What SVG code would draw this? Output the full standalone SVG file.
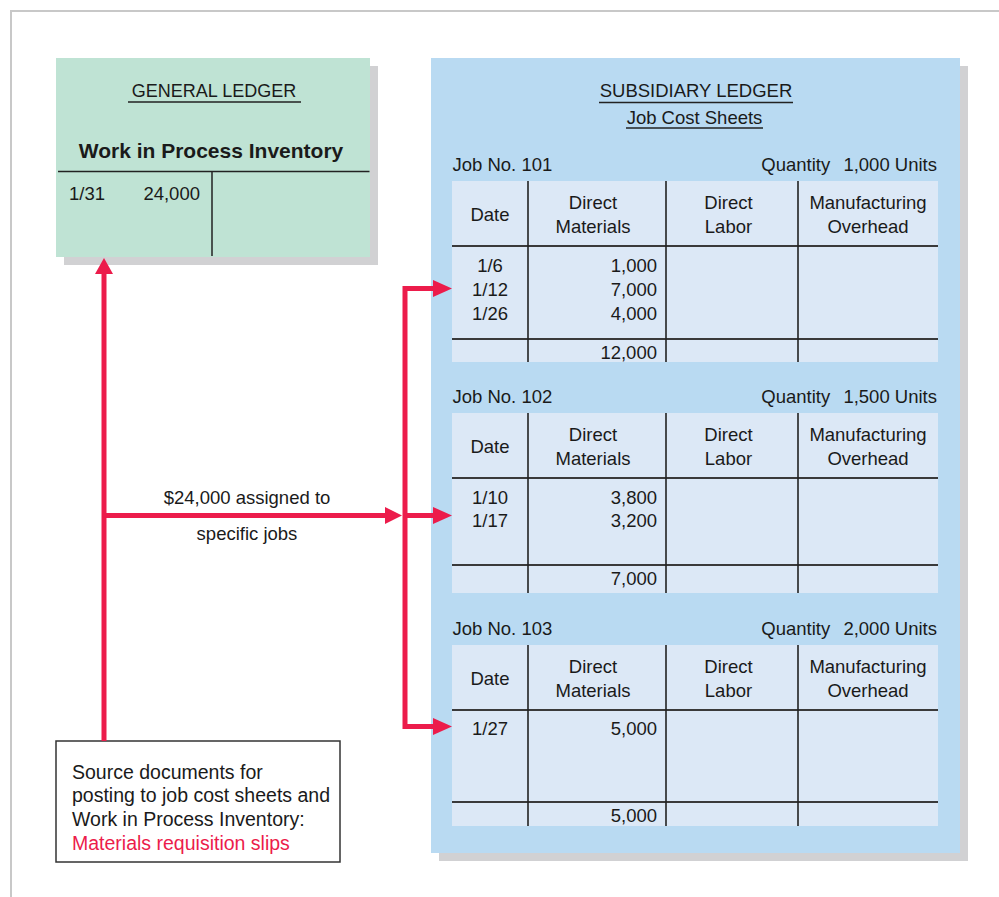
<svg xmlns="http://www.w3.org/2000/svg" width="999" height="897" viewBox="0 0 999 897">
<defs>
<style>
text { font-family: "Liberation Sans", Arial, sans-serif; font-size: 18.5px; fill: #1a1a1a; }
.c { text-anchor: middle; }
.r { text-anchor: end; }
.b { font-weight: bold; font-size: 21px; }
.red { fill: #ec1c4b; }
.shadow { fill: #d1d1d3; }
.tbl { fill: #dce8f6; }
.hl { stroke: #3a3a3a; stroke-width: 2; fill: none; }
.vl { stroke: #222; stroke-width: 1.6; fill: none; }
.ul { stroke: #222; stroke-width: 1.3; }
.conn { stroke: #ec1c4b; stroke-width: 5; fill: none; stroke-linejoin: miter; }
.head { fill: #ec1c4b; }
.src { font-size: 19.5px; }
</style>
</defs>
<rect x="0" y="0" width="999" height="897" fill="#ffffff"/>
<g id="frame">
<path d="M11 897 V11 H999" stroke="#c8c8c8" stroke-width="2" fill="none"/>
</g>

<g id="general-ledger">
<rect class="shadow" x="64" y="66" width="314" height="199"/>
<rect x="56" y="58" width="314" height="199" fill="#bfe3d4"/>
<text class="c" x="214" y="97" style="font-size:18px">GENERAL LEDGER</text>
<line class="ul" x1="128" y1="102" x2="301" y2="102"/>
<text class="c b" x="211" y="158">Work in Process Inventory</text>
<line x1="58" y1="171.5" x2="369.5" y2="171.5" stroke="#222" stroke-width="1.5"/>
<line x1="212" y1="171.5" x2="212" y2="256" stroke="#222" stroke-width="1.5"/>
<text x="69" y="200">1/31</text>
<text class="r" x="200" y="200">24,000</text>
</g>

<g id="subsidiary-ledger">
<rect class="shadow" x="439" y="66" width="529" height="795"/>
<rect x="431" y="58" width="529" height="795" fill="#b9daf2"/>
<text class="c" x="696" y="97">SUBSIDIARY LEDGER</text>
<line class="ul" x1="599" y1="102.5" x2="793" y2="102.5"/>
<text class="c" x="694.5" y="123.5">Job Cost Sheets</text>
<line class="ul" x1="626" y1="128" x2="763" y2="128"/>

<g id="job-101">
<text x="452.5" y="171">Job No. 101</text>
<text class="r" x="937" y="171">Quantity<tspan dx="8"> 1,000 Units</tspan></text>
<rect class="tbl" x="452" y="181" width="486" height="181"/>
<path class="hl" d="M452 246 H938 M452 339 H938"/>
<path class="vl" d="M528 181 V362 M666 181 V362 M798 181 V362"/>
<text class="c" x="490" y="221">Date</text>
<text class="c" x="593" y="209">Direct</text>
<text class="c" x="593" y="233">Materials</text>
<text class="c" x="728.5" y="209">Direct</text>
<text class="c" x="728.5" y="233">Labor</text>
<text class="c" x="868" y="209">Manufacturing</text>
<text class="c" x="868" y="233">Overhead</text>
<text class="c" x="490" y="272">1/6</text>
<text class="c" x="490" y="296">1/12</text>
<text class="c" x="490" y="320">1/26</text>
<text class="r" x="657" y="272">1,000</text>
<text class="r" x="657" y="296">7,000</text>
<text class="r" x="657" y="320">4,000</text>
<text class="r" x="657" y="358.5">12,000</text>
</g>

<g id="job-102">
<text x="452.5" y="403">Job No. 102</text>
<text class="r" x="937" y="403">Quantity<tspan dx="8"> 1,500 Units</tspan></text>
<rect class="tbl" x="452" y="413" width="486" height="180"/>
<path class="hl" d="M452 478 H938 M452 565 H938"/>
<path class="vl" d="M528 413 V593 M666 413 V593 M798 413 V593"/>
<text class="c" x="490" y="453">Date</text>
<text class="c" x="593" y="441">Direct</text>
<text class="c" x="593" y="465">Materials</text>
<text class="c" x="728.5" y="441">Direct</text>
<text class="c" x="728.5" y="465">Labor</text>
<text class="c" x="868" y="441">Manufacturing</text>
<text class="c" x="868" y="465">Overhead</text>
<text class="c" x="490" y="503.5">1/10</text>
<text class="c" x="490" y="527">1/17</text>
<text class="r" x="657" y="503.5">3,800</text>
<text class="r" x="657" y="527">3,200</text>
<text class="r" x="657" y="585">7,000</text>
</g>

<g id="job-103">
<text x="452.5" y="634.5">Job No. 103</text>
<text class="r" x="937" y="634.5">Quantity<tspan dx="8"> 2,000 Units</tspan></text>
<rect class="tbl" x="452" y="645" width="486" height="181"/>
<path class="hl" d="M452 710 H938 M452 802 H938"/>
<path class="vl" d="M528 645 V826 M666 645 V826 M798 645 V826"/>
<text class="c" x="490" y="685">Date</text>
<text class="c" x="593" y="673">Direct</text>
<text class="c" x="593" y="697">Materials</text>
<text class="c" x="728.5" y="673">Direct</text>
<text class="c" x="728.5" y="697">Labor</text>
<text class="c" x="868" y="673">Manufacturing</text>
<text class="c" x="868" y="697">Overhead</text>
<text class="c" x="490" y="735">1/27</text>
<text class="r" x="657" y="735">5,000</text>
<text class="r" x="657" y="822">5,000</text>
</g>
</g>

<g id="source-documents">
<rect x="56" y="741" width="284" height="121" fill="#ffffff" stroke="#333" stroke-width="1.5"/>
<text class="src" x="72" y="778.5">Source documents for</text>
<text class="src" x="72" y="802">posting to job cost sheets and</text>
<text class="src" x="72" y="826">Work in Process Inventory:</text>
<text class="src red" x="72" y="850">Materials requisition slips</text>
</g>

<g id="connectors">
<path class="conn" d="M104 741 V270"/>
<polygon class="head" points="104,258 95,274 113,274"/>
<path class="conn" d="M104 515.5 H388"/>
<polygon class="head" points="402,515.5 385,507 385,524"/>
<path class="conn" d="M436 288.5 H405 V726.5 H436"/>
<path class="conn" d="M405 515.5 H436"/>
<polygon class="head" points="452,288.5 433,280 433,297"/>
<polygon class="head" points="452,515.5 433,507 433,524"/>
<polygon class="head" points="452,726.5 433,718 433,735"/>
</g>

<g id="connector-label">
<text class="c" x="247" y="503.5">$24,000 assigned to</text>
<text class="c" x="247" y="540">specific jobs</text>
</g>
</svg>
